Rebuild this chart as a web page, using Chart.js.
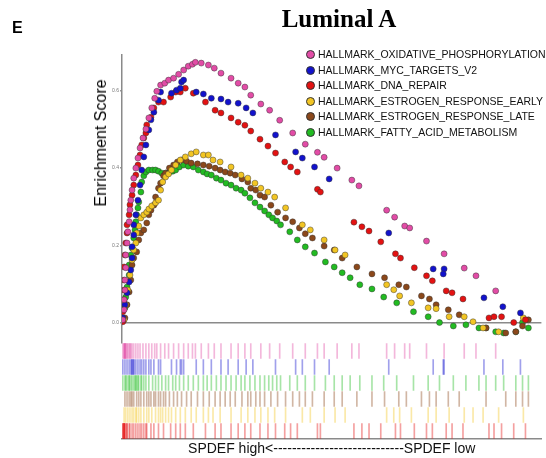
<!DOCTYPE html>
<html>
<head>
<meta charset="utf-8">
<script src="https://cdn.jsdelivr.net/npm/chart.js@4.4.1/dist/chart.umd.min.js"></script>
<style>
    body { margin: 0; background: #fff; }
    #wrap { position: relative; width: 546px; height: 458px; font-family: Arial, "Liberation Sans", sans-serif; }
    #panel { position: absolute; left: 12px; top: 19px; font-weight: bold; font-size: 16px; }
    #title { position: absolute; left: 0; width: 678px; top: 5px; text-align: center;
             font-family: "Liberation Serif", "Times New Roman", serif; font-weight: bold; font-size: 25px; }
    #ytitle { position: absolute; left: 101px; top: 143px; font-size: 16px; white-space: nowrap;
              transform: translate(-50%, -50%) rotate(-90deg); }
    #legend { position: absolute; left: 306px; top: 47px; font-size: 10.5px; color: #111; }
    .item { height: 15.5px; line-height: 15.5px; white-space: nowrap; }
    .dot { display: inline-block; width: 9px; height: 9px; border-radius: 50%; border: 0.6px solid #333;
           box-sizing: border-box; vertical-align: -1px; margin-right: 3px; }
</style>
</head>
<body>
<div id="wrap">
    <canvas id="gsea"></canvas>
    <div id="panel">E</div>
    <div id="title">Luminal A</div>
    <div id="ytitle">Enrichment Score</div>
    <div id="legend"></div>
</div>
<script>
// Gene set names and colours
const geneSets = [
    'HALLMARK_OXIDATIVE_PHOSPHORYLATION',
    'HALLMARK_MYC_TARGETS_V2',
    'HALLMARK_DNA_REPAIR',
    'HALLMARK_ESTROGEN_RESPONSE_EARLY',
    'HALLMARK_ESTROGEN_RESPONSE_LATE',
    'HALLMARK_FATTY_ACID_METABOLISM'
];
const colors = ['#e24ca6', '#1212cc', '#e31212', '#f2c524', '#8b481b', '#22bb22'];

// running enrichment score at each hit: [rank % of list, ES]
const oxphos = [[0.2,0.007],[0.5,0.033],[0.5,0.059],[0.7,0.084],[0.7,0.110],[0.9,0.142],[0.9,0.175],[1.2,0.206],
    [1.4,0.235],[1.7,0.261],[1.9,0.292],[2.1,0.317],[2.4,0.343],[2.8,0.374],[3.3,0.400],[3.8,0.426],[4.3,0.452],
    [5.0,0.478],[5.7,0.501],[6.4,0.530],[7.1,0.556],[7.8,0.581],[8.3,0.599],[9.2,0.615],[10.2,0.620],[11.1,0.628],
    [12.3,0.633],[13.5,0.643],[14.7,0.654],[15.8,0.664],[16.8,0.669],[17.5,0.674],[18.9,0.672],[20.6,0.667],
    [22.0,0.659],[23.6,0.646],[26.0,0.633],[27.7,0.620],[29.3,0.610],[30.7,0.589],[33.1,0.566],[35.2,0.550],
    [37.6,0.524],[40.7,0.491],[43.7,0.462],[46.6,0.441],[48.2,0.428],[51.3,0.400],[54.8,0.369],[56.5,0.354],
    [63.1,0.291],[65.0,0.273],[67.4,0.250],[68.6,0.245],[72.6,0.211],[76.8,0.178],[81.6,0.141],[84.4,0.121],[89.1,0.082]];
const mycV2 = [[0.2,0.012],[0.7,0.046],[1.2,0.077],[1.7,0.105],[2.1,0.136],[2.4,0.167],[2.4,0.196],[2.8,0.227],
    [2.8,0.253],[3.3,0.279],[3.8,0.317],[4.3,0.356],[4.7,0.395],[5.2,0.429],[5.7,0.460],[6.4,0.499],[6.9,0.525],
    [7.6,0.545],[8.7,0.576],[9.2,0.597],[11.8,0.594],[13.0,0.602],[13.9,0.607],[14.2,0.623],[14.7,0.628],
    [17.7,0.597],[19.4,0.592],[21.3,0.581],[23.6,0.579],[25.3,0.571],[27.7,0.568],[29.6,0.556],[31.2,0.543],
    [36.6,0.486],[41.4,0.442],[43.0,0.426],[45.9,0.403],[49.4,0.372],[63.6,0.232],[74.2,0.139],[76.8,0.139],
    [76.6,0.126],[86.3,0.064],[90.8,0.041],[95.0,0.025]];
const dnaRepair = [[0.2,0.002],[0.2,0.028],[0.5,0.059],[0.5,0.084],[0.5,0.110],[0.5,0.144],[0.7,0.175],[0.9,0.206],
    [1.2,0.232],[1.2,0.253],[1.7,0.279],[1.9,0.305],[2.4,0.330],[2.8,0.356],[3.3,0.382],[3.8,0.408],[4.3,0.434],
    [4.7,0.460],[5.2,0.478],[5.7,0.491],[5.9,0.512],[6.9,0.532],[7.6,0.556],[8.7,0.571],[9.9,0.571],[11.6,0.584],
    [12.8,0.597],[13.9,0.597],[15.1,0.607],[17.0,0.594],[19.9,0.571],[22.2,0.550],[23.6,0.543],[26.0,0.530],
    [27.7,0.519],[29.3,0.511],[30.7,0.496],[32.9,0.475],[34.8,0.457],[36.6,0.439],[38.8,0.416],[40.2,0.403],
    [41.8,0.390],[46.6,0.345],[47.3,0.338],[55.3,0.260],[57.2,0.248],[58.9,0.237],[61.7,0.209],[65.2,0.178],
    [66.4,0.167],[69.7,0.142],[72.6,0.121],[74.0,0.108],[77.3,0.082],[78.7,0.077],[81.3,0.061],[87.5,0.012],
    [88.7,0.015],[90.5,0.015],[93.4,0.000],[96.2,0.007]];
const erEarly = [[0.5,0.007],[0.9,0.046],[1.4,0.084],[1.9,0.123],[2.4,0.162],[2.8,0.188],[3.3,0.206],[3.5,0.232],
    [4.0,0.250],[4.5,0.271],[5.2,0.279],[5.9,0.286],[6.4,0.294],[7.1,0.302],[8.0,0.310],[8.7,0.317],[9.2,0.343],
    [9.7,0.364],[10.4,0.377],[11.1,0.385],[11.8,0.395],[12.8,0.408],[13.9,0.421],[15.1,0.429],[16.5,0.437],
    [17.7,0.442],[19.4,0.434],[20.6,0.434],[21.7,0.421],[23.4,0.416],[26.0,0.403],[28.4,0.382],[30.0,0.374],
    [31.7,0.361],[33.1,0.348],[34.8,0.338],[36.4,0.325],[39.0,0.297],[43.0,0.253],[44.9,0.240],[48.2,0.214],
    [50.8,0.188],[53.2,0.175],[63.1,0.098],[64.8,0.085],[66.2,0.069],[69.0,0.051],[73.0,0.038],[74.9,0.036],
    [78.0,0.015],[81.6,0.015],[83.7,0.002],[86.1,-0.014],[89.8,-0.024],[95.7,0.012]];
const erLate = [[0.7,0.012],[1.2,0.046],[1.7,0.079],[2.1,0.110],[2.4,0.149],[2.8,0.167],[3.5,0.183],[4.0,0.214],
    [4.5,0.232],[5.2,0.240],[5.9,0.258],[6.4,0.279],[6.9,0.291],[7.6,0.304],[8.0,0.325],[8.7,0.348],[9.2,0.361],
    [9.9,0.380],[10.4,0.387],[11.3,0.400],[12.3,0.408],[13.2,0.416],[14.2,0.421],[15.4,0.418],[16.5,0.413],
    [18.0,0.411],[19.4,0.408],[20.8,0.405],[22.2,0.400],[23.4,0.395],[24.6,0.390],[25.8,0.387],[27.0,0.382],
    [28.6,0.372],[30.0,0.364],[30.7,0.348],[31.9,0.343],[32.9,0.330],[34.0,0.325],[35.5,0.304],[37.1,0.286],
    [39.0,0.271],[40.7,0.261],[42.3,0.245],[43.7,0.230],[45.4,0.219],[48.2,0.198],[50.6,0.188],[52.5,0.167],
    [56.0,0.144],[59.6,0.126],[62.6,0.116],[66.0,0.098],[67.8,0.092],[71.4,0.069],[73.3,0.061],[74.9,0.046],
    [77.8,0.033],[80.4,0.020],[86.8,-0.014],[91.5,-0.027],[93.9,-0.024],[95.5,-0.009],[96.9,0.007]];
const fattyAcid = [[0.2,0.007],[0.7,0.038],[0.9,0.066],[1.2,0.092],[1.7,0.123],[1.7,0.149],[2.1,0.175],[2.4,0.193],
    [2.8,0.219],[3.1,0.240],[3.3,0.261],[3.5,0.279],[3.8,0.297],[4.0,0.312],[4.5,0.338],[4.7,0.364],[5.2,0.380],
    [5.7,0.390],[6.4,0.395],[7.3,0.395],[8.0,0.395],[8.7,0.392],[9.5,0.387],[10.4,0.387],[11.1,0.387],[12.1,0.392],
    [12.8,0.395],[13.7,0.403],[14.7,0.408],[15.8,0.405],[17.0,0.403],[18.2,0.395],[19.4,0.390],[20.3,0.385],
    [21.3,0.382],[22.5,0.374],[23.6,0.369],[24.8,0.361],[26.0,0.356],[27.2,0.348],[28.4,0.343],[29.3,0.335],
    [30.5,0.323],[31.7,0.310],[32.9,0.299],[34.0,0.289],[35.0,0.279],[35.9,0.271],[36.9,0.263],[37.8,0.253],
    [40.0,0.235],[41.8,0.214],[43.7,0.196],[45.9,0.180],[48.5,0.157],[50.6,0.144],[52.5,0.129],[54.4,0.116],
    [56.7,0.098],[59.6,0.087],[62.4,0.066],[65.5,0.051],[69.5,0.028],[73.0,0.015],[75.7,0.000],[79.0,-0.009],
    [82.0,-0.006],[85.1,-0.014],[86.8,-0.014],[89.1,-0.024],[91.0,-0.027],[93.9,-0.024],[95.5,0.000],[96.9,-0.014]];

const seriesData = [oxphos, mycV2, dnaRepair, erEarly, erLate, fattyAcid];
// order of the hit rows under the plot, top to bottom
const rugOrder = [0, 1, 5, 4, 3, 2];
const yTicks = [0, 0.2, 0.4, 0.6];
const xLabel = 'SPDEF high<----------------------------SPDEF low';

function alpha(hex, a) {
    const n = parseInt(hex.slice(1), 16);
    return `rgba(${n >> 16},${(n >> 8) & 255},${n & 255},${a})`;
}

// HTML legend
const legend = document.getElementById('legend');
geneSets.forEach((name, i) => {
    const row = document.createElement('div');
    row.className = 'item';
    row.innerHTML = `<span class="dot" style="background:${colors[i]}"></span>${name}`;
    legend.appendChild(row);
});

const datasets = seriesData.map((pts, i) => ({
    type: 'scatter',
    label: geneSets[i],
    data: pts,
    xAxisID: 'x',
    yAxisID: 'y',
    backgroundColor: colors[i],
    borderColor: 'rgba(50,50,50,0.75)',
    borderWidth: 0.6,
    pointRadius: 3
}));

// hit bars (rug) under the plot
rugOrder.forEach((si, row) => {
    datasets.push({
        type: 'bar',
        label: geneSets[si] + ' hits',
        data: seriesData[si].map(p => ({ x: p[0], y: [row + 0.04, row + 0.96] })),
        xAxisID: 'x',
        yAxisID: 'yRug',
        backgroundColor: alpha(colors[si], 0.4),
        barThickness: 1,
        grouped: false
    });
});

new Chart(document.getElementById('gsea'), {
    type: 'scatter',
    data: { datasets },
    options: {
        responsive: true,
        maintainAspectRatio: false,
        animation: false,
        events: [],
        layout: { padding: { top: 55, left: 0, right: 0, bottom: 0 } },
        plugins: { legend: { display: false }, tooltip: { enabled: false } },
        scales: {
            x: {
                type: 'linear',
                min: 0,
                max: 100,
                offset: false,
                ticks: { display: false },
                grid: { display: false },
                border: { color: '#8a8a8a', width: 1.5 },
                title: { display: true, text: xLabel, color: '#111', font: { size: 14, family: 'Arial' }, padding: { top: 0, bottom: 0 } },
                afterFit: s => { s.height = 19; }
            },
            yRug: {
                type: 'linear',
                stack: 'main',
                stackWeight: 1,
                position: 'left',
                min: 0,
                max: 6,
                reverse: true,
                ticks: { display: false },
                grid: { display: false },
                border: { display: false },
                afterFit: s => { s.width = 122; }
            },
            y: {
                type: 'linear',
                stack: 'main',
                stackWeight: 3,
                position: 'left',
                min: -0.053,
                max: 0.693,
                afterBuildTicks: s => { s.ticks = yTicks.map(v => ({ value: v })); },
                ticks: { callback: v => v.toFixed(1), color: '#777', font: { size: 5 }, padding: 1 },
                grid: {
                    color: c => c.tick && c.tick.value === 0 ? '#8a8a8a' : 'rgba(0,0,0,0)',
                    lineWidth: 1.5,
                    tickColor: '#999',
                    tickLength: 2
                },
                border: { color: '#8a8a8a', width: 1.5 },
                afterFit: s => { s.width = 122; }
            }
        }
    }
});
</script>
</body>
</html>
